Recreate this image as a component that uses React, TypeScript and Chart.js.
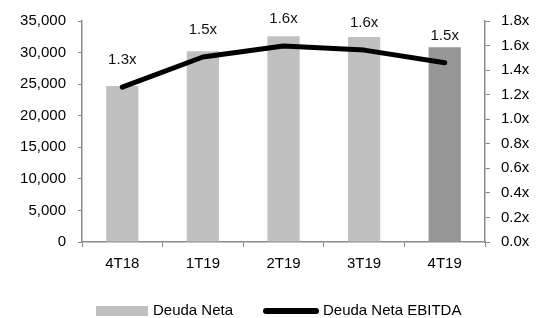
import React, { useEffect, useRef } from "react";
import { Chart, registerables } from "chart.js";

Chart.register(...registerables);

const categories = ["4T18", "1T19", "2T19", "3T19", "4T19"];
const deudaNeta = [24700, 30200, 32600, 32450, 30850];
const deudaEbitda = [1.262, 1.507, 1.596, 1.563, 1.46];
const barColors = ["#c0c0c0", "#c0c0c0", "#c0c0c0", "#c0c0c0", "#969696"];
const legendLabels = ["Deuda Neta", "Deuda Neta EBITDA"];

const FONT = "'Liberation Sans', Arial, sans-serif";
const AXIS = "#8a8a8a";

export default function App() {
  const ref = useRef<HTMLCanvasElement | null>(null);

  useEffect(() => {
    if (!ref.current) return;

    const labelPlugin = {
      id: "ratioLabels",
      afterDatasetsDraw(chart: any) {
        const ctx = chart.ctx;
        const meta = chart.getDatasetMeta(1);
        ctx.save();
        ctx.font = `15px ${FONT}`;
        ctx.fillStyle = "#111";
        ctx.textAlign = "center";
        ctx.textBaseline = "middle";
        meta.data.forEach((pt: any, i: number) => {
          ctx.fillText(deudaEbitda[i].toFixed(1) + "x", pt.x, pt.y - 27);
        });
        ctx.restore();
      },
    };

    const legendPlugin = {
      id: "customLegend",
      afterDraw(chart: any) {
        const ctx = chart.ctx;
        ctx.save();
        const y = 311;
        ctx.fillStyle = "#c0c0c0";
        ctx.fillRect(96, y - 5, 52, 10);
        ctx.font = `15px ${FONT}`;
        ctx.fillStyle = "#000";
        ctx.textBaseline = "middle";
        ctx.textAlign = "left";
        ctx.fillText(legendLabels[0], 153, y);
        ctx.strokeStyle = "#000";
        ctx.lineWidth = 6;
        ctx.lineCap = "round";
        ctx.beginPath();
        ctx.moveTo(266, y);
        ctx.lineTo(316, y);
        ctx.stroke();
        ctx.fillText(legendLabels[1], 323, y);
        ctx.restore();
      },
    };

    const chart = new Chart(ref.current, {
      type: "bar",
      data: {
        labels: categories,
        datasets: [
          {
            type: "bar",
            label: legendLabels[0],
            data: deudaNeta,
            backgroundColor: barColors,
            yAxisID: "y",
            order: 2,
            barPercentage: 0.8,
            categoryPercentage: 0.5,
          },
          {
            type: "line",
            label: legendLabels[1],
            data: deudaEbitda,
            borderColor: "#000",
            borderWidth: 5,
            borderCapStyle: "round",
            borderJoinStyle: "round",
            pointRadius: 0,
            tension: 0,
            yAxisID: "y1",
            order: 1,
          } as any,
        ],
      },
      options: {
        responsive: true,
        maintainAspectRatio: false,
        animation: false,
        layout: { padding: { top: 21, left: 0, right: 0, bottom: 0 } },
        plugins: {
          legend: { display: false },
          tooltip: { enabled: false },
        },
        scales: {
          x: {
            offset: true,
            grid: {
              display: true,
              drawOnChartArea: false,
              drawTicks: true,
              tickLength: 5,
              color: AXIS,
              offset: true,
            },
            border: { color: AXIS, width: 1.5 },
            ticks: {
              color: "#000",
              font: { family: FONT, size: 15 },
              padding: 8,
            },
            afterFit(scale: any) {
              scale.height = 76;
            },
          },
          y: {
            position: "left",
            min: 0,
            max: 35000,
            grid: {
              drawOnChartArea: false,
              drawTicks: true,
              tickLength: 4,
              color: AXIS,
            },
            border: { color: AXIS, width: 1.5 },
            ticks: {
              stepSize: 5000,
              color: "#000",
              font: { family: FONT, size: 15 },
              padding: 12,
              callback: (v: any) => Number(v).toLocaleString("en-US"),
            },
            afterFit(scale: any) {
              scale.width = 82;
            },
          },
          y1: {
            position: "right",
            min: 0,
            max: 1.8,
            grid: {
              drawOnChartArea: false,
              drawTicks: true,
              tickLength: 5,
              color: AXIS,
            },
            border: { color: AXIS, width: 1.5 },
            ticks: {
              stepSize: 0.2,
              color: "#000",
              font: { family: FONT, size: 15 },
              padding: 11,
              callback: (v: any) => Number(v).toFixed(1) + "x",
            },
            afterFit(scale: any) {
              scale.width = 58;
            },
          },
        },
      },
      plugins: [labelPlugin, legendPlugin],
    });

    return () => chart.destroy();
  }, []);

  return (
    <div
      style={{
        position: "fixed",
        left: 0,
        top: 0,
        width: 543,
        height: 318,
        background: "#fff",
      }}
    >
      <canvas ref={ref} />
    </div>
  );
}
